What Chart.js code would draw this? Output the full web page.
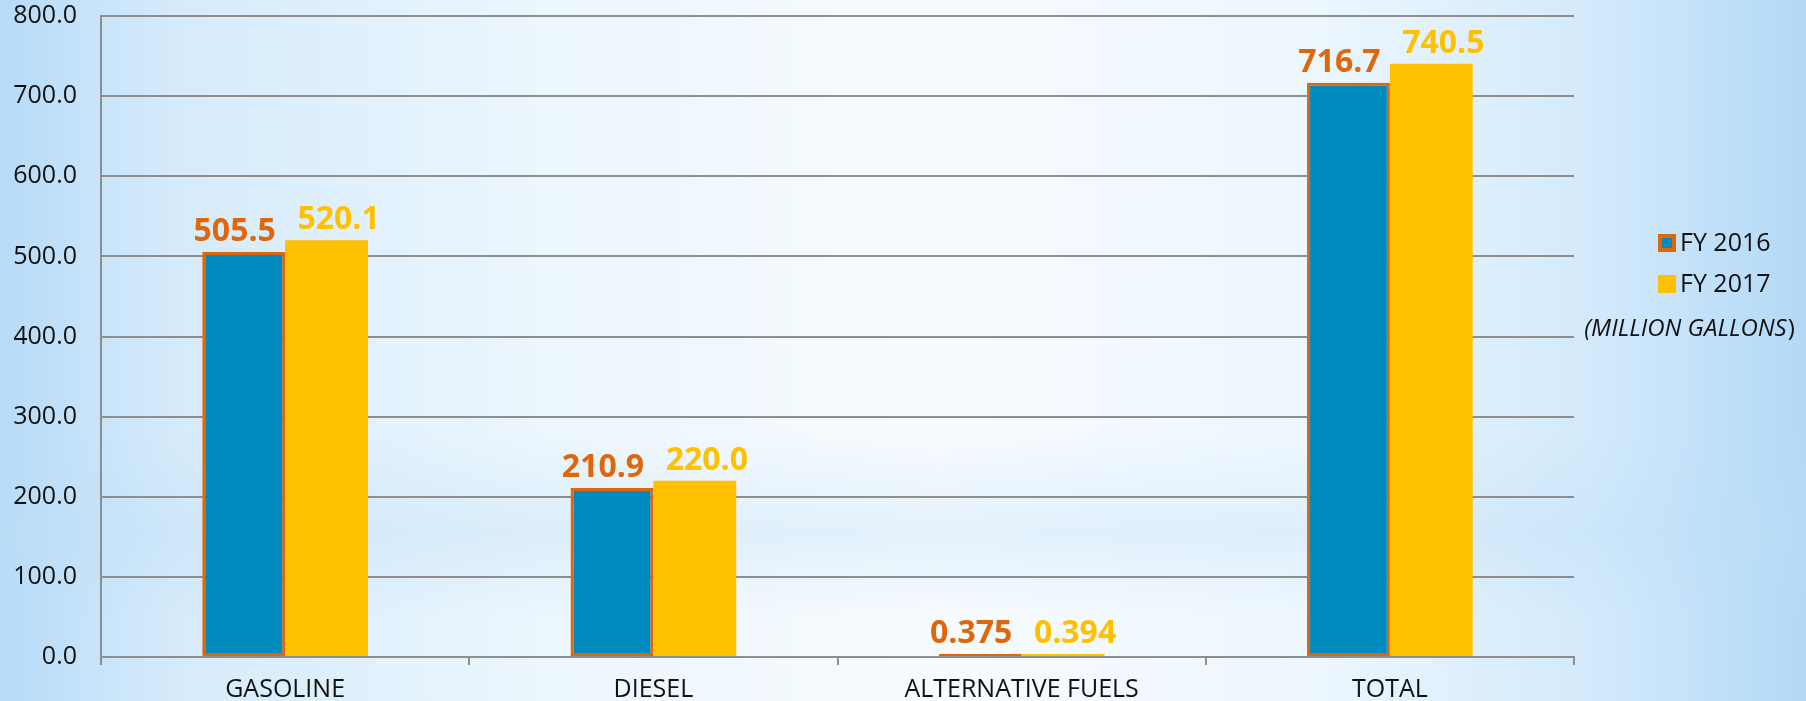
<!DOCTYPE html>
<html>
<head>
<meta charset="utf-8">
<script src="https://cdn.jsdelivr.net/npm/chart.js@4"></script>
<style>
  html, body { margin: 0; padding: 0; }
  body {
    width: 1806px; height: 701px; overflow: hidden;
    background:
      linear-gradient(to bottom, rgba(255,255,255,0) 62%, rgba(190,222,247,0.35) 76%, rgba(255,255,255,0) 88%),
      linear-gradient(to right, #b7dbf8 0%, #d6ebfb 10%, #ecf6fd 30%, #f7fbfe 52%, #eef7fe 72%, #d3eafb 88%, #b3d9f7 100%);
  }
</style>
</head>
<body>
<canvas id="chart" width="1806" height="701"></canvas>
<script>
const categories = ['GASOLINE', 'DIESEL', 'ALTERNATIVE FUELS', 'TOTAL'];
const fy2016 = [505.5, 210.9, 0.375, 716.7];
const fy2017 = [520.1, 220.0, 0.394, 740.5];
const yTicks = [0, 100, 200, 300, 400, 500, 600, 700, 800];
const unitLabel = 'MILLION GALLONS';

const orange = '#E0660C';
const blue = '#008BBE';
const yellow = '#FFC000';
const gridGray = '#8e8e8e';
const fontFamily = '"Open Sans", "DejaVu Sans", sans-serif';

// value labels above each bar, nudged apart a little
const valueLabels = {
  id: 'valueLabels',
  afterDatasetsDraw(chart) {
    const ctx = chart.ctx;
    ctx.save();
    ctx.font = 'bold 32px ' + fontFamily;
    ctx.textAlign = 'center';
    ctx.textBaseline = 'alphabetic';
    chart.data.datasets.forEach((ds, i) => {
      chart.getDatasetMeta(i).data.forEach((bar, j) => {
        const v = ds.data[j];
        ctx.fillStyle = ds.labelColor;
        ctx.fillText(v < 1 ? v.toFixed(3) : v.toFixed(1), bar.x + (i === 0 ? -9 : 12), bar.y - 11);
      });
    });
    ctx.restore();
  }
};

// legend on the right with the unit note under it
const sideLegend = {
  id: 'sideLegend',
  afterDraw(chart) {
    const ctx = chart.ctx;
    const bx = chart.chartArea.right + 84;
    ctx.save();
    ctx.font = '25px ' + fontFamily;
    ctx.textBaseline = 'middle';
    ctx.textAlign = 'left';
    chart.data.datasets.forEach((ds, i) => {
      const cy = 243 + i * 41;
      if (ds.borderWidth) {
        ctx.fillStyle = ds.borderColor;
        ctx.fillRect(bx, cy - 9, 18, 18);
        ctx.fillStyle = ds.backgroundColor;
        ctx.fillRect(bx + 4, cy - 5, 10, 10);
      } else {
        ctx.fillStyle = ds.backgroundColor;
        ctx.fillRect(bx, cy - 9, 18, 18);
      }
      ctx.fillStyle = '#111';
      ctx.fillText(ds.label, bx + 22, cy + 1);
    });
    // (MILLION GALLONS)
    const cy = 329;
    ctx.font = 'italic 24px ' + fontFamily;
    const text = '(' + unitLabel;
    const tw = ctx.measureText(text).width;
    ctx.font = '24px ' + fontFamily;
    const pw = ctx.measureText(')').width;
    const x = 1689 - (tw + pw) / 2;
    ctx.font = 'italic 24px ' + fontFamily;
    ctx.fillText(text, x, cy);
    ctx.font = '24px ' + fontFamily;
    ctx.fillText(')', x + tw + 1, cy);
    ctx.restore();
  }
};

const tickFont = { family: fontFamily, size: 25, lineHeight: 1 };

new Chart(document.getElementById('chart'), {
  type: 'bar',
  data: {
    labels: categories,
    datasets: [
      {
        label: 'FY 2016',
        data: fy2016,
        backgroundColor: blue,
        borderColor: orange,
        borderWidth: 3,
        borderSkipped: false,
        minBarLength: 3,
        labelColor: orange
      },
      {
        label: 'FY 2017',
        data: fy2017,
        backgroundColor: yellow,
        borderWidth: 0,
        minBarLength: 3,
        labelColor: yellow
      }
    ]
  },
  options: {
    responsive: false,
    animation: false,
    categoryPercentage: 0.45,
    barPercentage: 1,
    layout: { padding: { left: 14, right: 232, top: 16, bottom: 0 } },
    plugins: {
      legend: { display: false },
      tooltip: { enabled: false }
    },
    scales: {
      x: {
        grid: { offset: true, drawOnChartArea: false, drawTicks: true, tickLength: 8, color: gridGray, lineWidth: 2 },
        border: { color: gridGray, width: 2 },
        ticks: { color: '#111', font: tickFont, padding: 12, maxRotation: 0 },
        afterFit: axis => { axis.height = 44; axis.paddingLeft = 0; axis.paddingRight = 0; }
      },
      y: {
        min: 0,
        max: 800,
        afterBuildTicks: axis => { axis.ticks = yTicks.map(v => ({ value: v })); },
        ticks: { color: '#111', font: tickFont, padding: 24, callback: v => Number(v).toFixed(1) },
        grid: { color: gridGray, lineWidth: 2, drawTicks: false },
        border: { color: gridGray, width: 2 },
        afterFit: axis => { axis.width = 87; axis.paddingTop = 12; axis.paddingBottom = 12; }
      }
    }
  },
  plugins: [valueLabels, sideLegend]
});
</script>
</body>
</html>
